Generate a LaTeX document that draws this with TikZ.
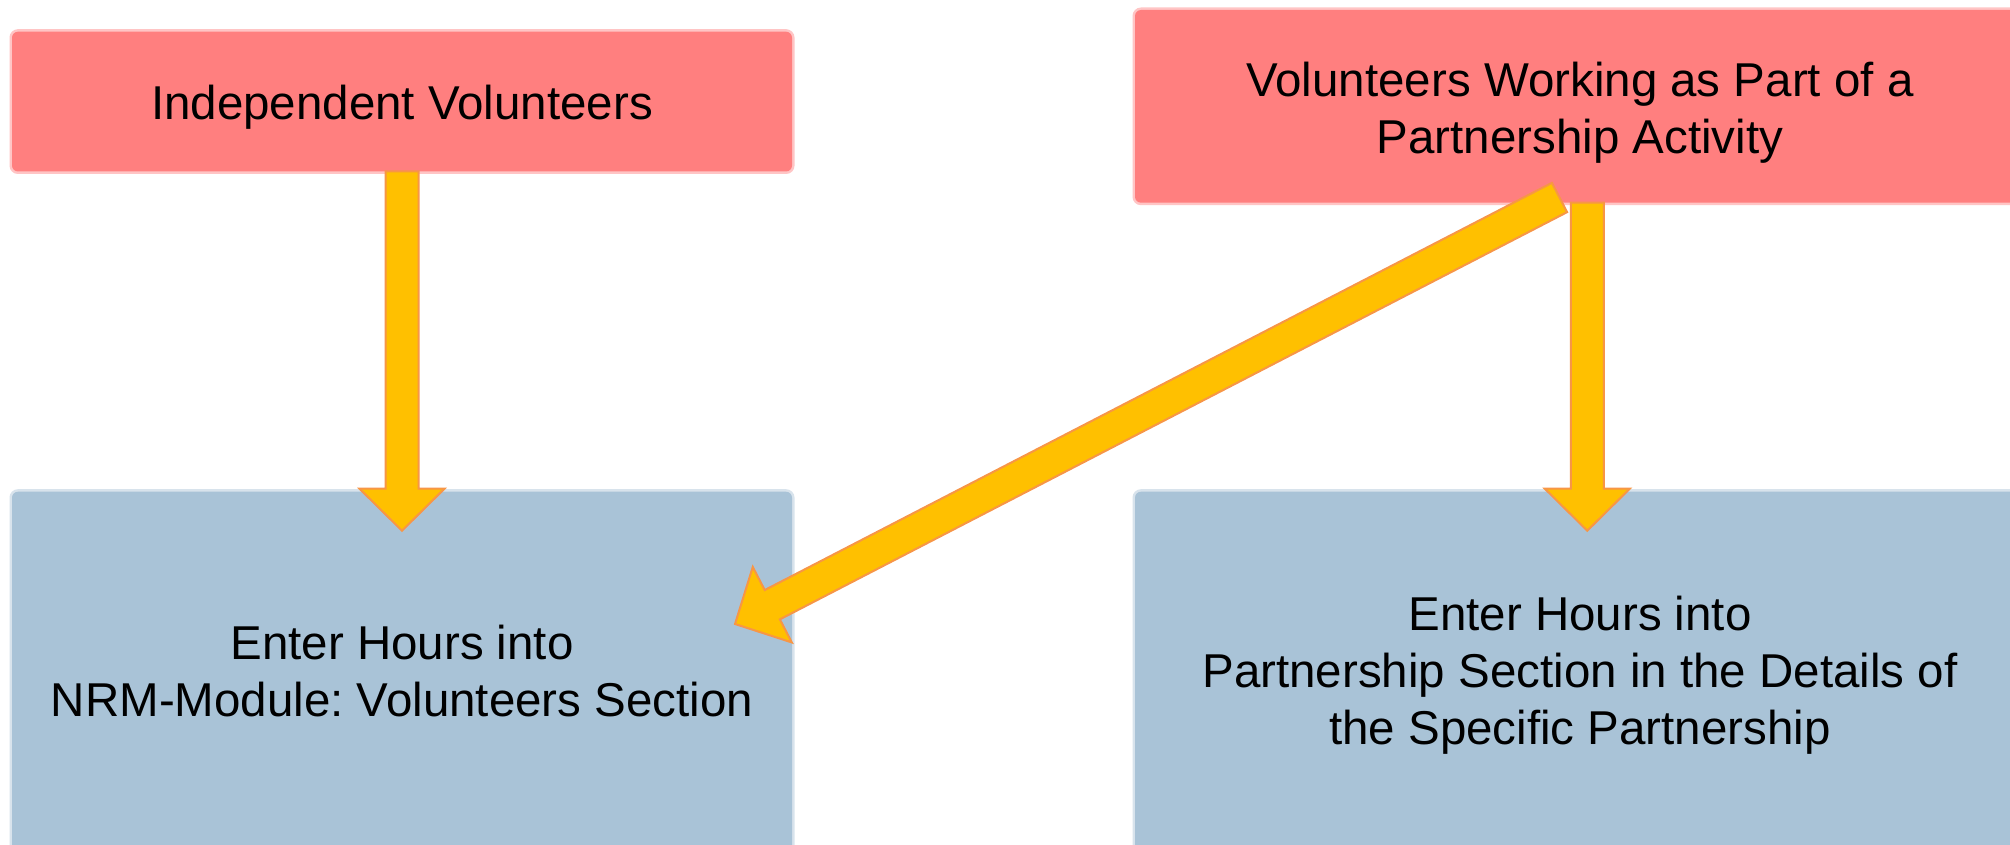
\documentclass[tikz,border=0pt]{standalone}
\usepackage{fontspec}
\setmainfont{Liberation Sans}
\usetikzlibrary{calc}
\frenchspacing
\definecolor{boxred}{HTML}{FF7F7F}
\definecolor{boxblue}{HTML}{A9C3D7}
\definecolor{arrgold}{HTML}{FFC000}
\definecolor{arredge}{HTML}{F79646}
% block arrow from #1 (tail centre) to #2 (tip)
\newcommand{\blockarr}[2]{%
  \coordinate (ba-b) at ($(#2)!42pt!(#1)$);
  \draw[blockarrow] ($(#1)!16.5pt!90:(#2)$) -- ($(ba-b)!16.5pt!-90:(#1)$)
    -- ($(ba-b)!42.5pt!-90:(#1)$) -- (#2) -- ($(ba-b)!42.5pt!90:(#1)$)
    -- ($(ba-b)!16.5pt!90:(#1)$) -- ($(#1)!16.5pt!-90:(#2)$) -- cycle;
}
\newcommand{\txtlines}[1]{\begin{tabular}[t]{@{}c@{}}#1\end{tabular}}
\begin{document}
\begin{tikzpicture}[x=1pt,y=-1pt,
  box/.style={rectangle, rounded corners=6pt, inner sep=0pt, outer sep=0pt, anchor=north west},
  redbox/.style={box, fill=boxred, preaction={draw=boxred, line width=5pt, draw opacity=0.45}},
  bluebox/.style={box, fill=boxblue, preaction={draw=boxblue, line width=5pt, draw opacity=0.45}},
  lbl/.style={inner sep=0pt, anchor=base, text=black, font=\fontsize{47.5}{57}\selectfont},
  blockarrow/.style={fill=arrgold, draw=arredge, line width=2pt, line join=miter}]
\clip (0,0) rectangle (2010,845);
\fill[white] (0,0) rectangle (2010,845);
% boxes
\node[redbox, minimum width=780pt, minimum height=139.8pt] (tl) at (12,31.7) {};
\node[redbox, minimum width=890pt, minimum height=192.7pt] (tr) at (1135,10) {};
\node[bluebox, minimum width=780pt, minimum height=420pt] (bl) at (12,491.7) {};
\node[bluebox, minimum width=890pt, minimum height=420pt] (br) at (1135,491.7) {};
% texts
\node[lbl] (tlt) at (402,120) {\txtlines{Independent Volunteers}};
\node[lbl] (trt) at (1580,96.7) {\txtlines{Volunteers Working as Part of a\\Partnership Activity}};
\node[lbl] (blt) at (402,659.3) {\txtlines{Enter Hours into\\NRM-Module: Volunteers Section}};
\node[lbl] (brt) at (1580,630) {\txtlines{Enter Hours into\\Partnership Section in the Details of\\the Specific Partnership}};
% arrow end points
\coordinate (s1) at ($(tl.south west)+(390,0)$);
\coordinate (e1) at ($(bl.north west)+(390,39)$);
\coordinate (s2) at ($(tr.south west)+(452.3,0)$);
\coordinate (e2) at ($(br.north west)+(452.3,39)$);
\coordinate (s3) at ($(tr.south west)+(424.5,-5.2)$);
\coordinate (e3) at ($(bl.north east)+(-57,132.3)$);
\blockarr{s1}{e1}
\blockarr{s2}{e2}
\blockarr{s3}{e3}
\end{tikzpicture}
\end{document}
